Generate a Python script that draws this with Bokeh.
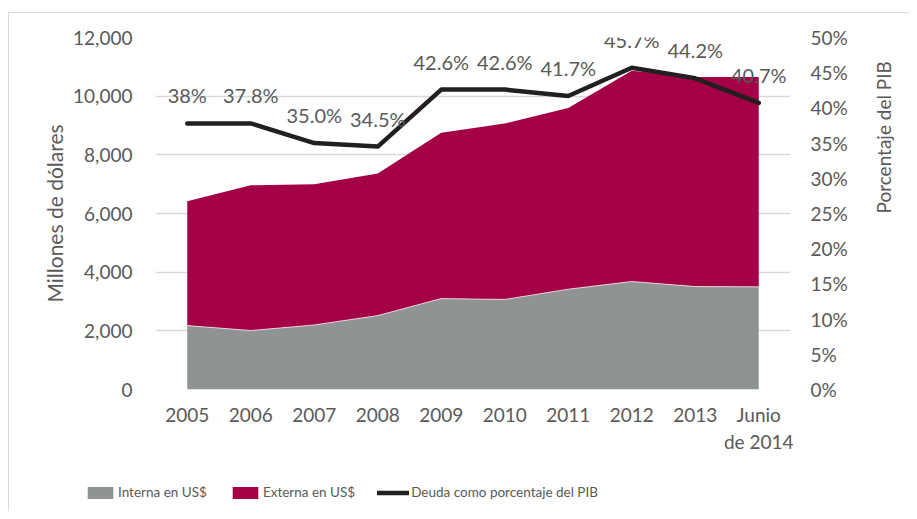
import math
from bokeh.plotting import figure
from bokeh.layouts import column
from bokeh.models import (Range1d, FactorRange, LinearAxis, SingleIntervalTicker,
                          NumeralTickFormatter, PrintfTickFormatter, Legend, LegendItem,
                          ColumnDataSource)
from bokeh.core.properties import value
from bokeh.embed import file_html
from bokeh.resources import INLINE

# ---- data ----
categories = ["2005", "2006", "2007", "2008", "2009", "2010", "2011", "2012", "2013", "Junio\nde 2014"]
interna = [2180, 2010, 2200, 2520, 3100, 3070, 3420, 3680, 3510, 3500]
externa = [4240, 4950, 4800, 4840, 5650, 6000, 6180, 7190, 7140, 7150]
pct_pib = [37.8, 37.8, 35.0, 34.5, 42.6, 42.6, 41.7, 45.7, 44.2, 40.7]
pct_labels = ["38%", "37.8%", "35.0%", "34.5%", "42.6%", "42.6%", "41.7%", "45.7%", "44.2%", "40.7%"]
series_names = ["Interna en US$", "Externa en US$", "Deuda como porcentaje del PIB"]

GRAY = "#8F9394"
MAROON = "#A30046"
LINE = "#231F20"
TXT = "#595959"
FONT = "Lato"

src = ColumnDataSource(dict(cat=categories, interna=interna, externa=externa,
                            pct=pct_pib, lab=pct_labels))

p = figure(width=900, height=446, x_range=FactorRange(*categories),
           y_range=Range1d(0, 12000), output_backend="svg", toolbar_location=None,
           min_border_left=146, min_border_right=114, min_border_top=24,
           min_border_bottom=70)
p.outline_line_color = None
p.background_fill_color = "white"
p.border_fill_color = "white"
p.extra_y_ranges = {"pct": Range1d(0, 50)}

# areas
areas = p.varea_stack(["interna", "externa"], x="cat", source=src, color=[GRAY, MAROON])
p.line("cat", "interna", source=src, color="white", line_width=1, line_alpha=0.7)

# line
ln = p.line("cat", "pct", source=src, y_range_name="pct", color=LINE, line_width=4.5,
            line_cap="round", line_join="round")
p.text("cat", "pct", text="lab", source=src, y_range_name="pct", text_align="center",
       text_baseline="middle", y_offset=-28, text_font=value(FONT),
       text_font_size="20px", text_color=TXT)

# axes
p.xgrid.visible = False
p.ygrid.ticker = SingleIntervalTicker(interval=2000)
p.ygrid.grid_line_color = "#D9D9D9"
p.ygrid.grid_line_width = 1.3

xa = p.xaxis[0]
xa.axis_line_color = None
xa.major_tick_line_color = None
xa.minor_tick_line_color = None
xa.major_label_standoff = 7
xa.major_label_text_font = FONT
xa.major_label_text_font_size = "19px"
xa.major_label_text_color = TXT

ya = p.yaxis[0]
ya.ticker = SingleIntervalTicker(interval=2000)
ya.formatter = NumeralTickFormatter(format="0,0")
ya.axis_line_color = None
ya.major_tick_line_color = None
ya.minor_tick_line_color = None
ya.major_label_standoff = 17
ya.major_label_text_font = FONT
ya.major_label_text_font_size = "19px"
ya.major_label_text_color = TXT
ya.axis_label = "Millones de dólares"
ya.axis_label_text_font = FONT
ya.axis_label_text_font_size = "21px"
ya.axis_label_text_font_style = "normal"
ya.axis_label_text_color = TXT
ya.axis_label_standoff = 3

ra = LinearAxis(y_range_name="pct", ticker=SingleIntervalTicker(interval=5),
                formatter=PrintfTickFormatter(format="%d%%"))
ra.axis_line_color = None
ra.major_tick_line_color = None
ra.minor_tick_line_color = None
ra.major_label_standoff = 14
ra.major_label_text_font = FONT
ra.major_label_text_font_size = "19px"
ra.major_label_text_color = TXT
ra.axis_label = "Porcentaje del PIB"
ra.axis_label_orientation = math.pi / 2
ra.axis_label_text_font = FONT
ra.axis_label_text_font_size = "19px"
ra.axis_label_text_font_style = "normal"
ra.axis_label_text_color = TXT
ra.axis_label_standoff = 33
p.add_layout(ra, "right")

# legend strip (own small figure so it is not clipped by the main frame)
lg = figure(width=900, height=52, output_backend="svg", toolbar_location=None,
            min_border=0, x_axis_location=None, y_axis_location=None,
            x_range=Range1d(0, 1), y_range=Range1d(0, 1))
lg.frame_align = False
lg.grid.visible = False
lg.outline_line_color = None
nan = float("nan")
r1 = lg.varea(x=[nan], y1=[nan], y2=[nan], color=GRAY)
r2 = lg.varea(x=[nan], y1=[nan], y2=[nan], color=MAROON)
r3 = lg.line(x=[nan], y=[nan], color=LINE, line_width=4.5, line_cap="round")
legend = Legend(items=[LegendItem(label=series_names[0], renderers=[r1]),
                       LegendItem(label=series_names[1], renderers=[r2]),
                       LegendItem(label=series_names[2], renderers=[r3])],
                orientation="horizontal", location=(75, 11), padding=0, margin=0,
                spacing=22, glyph_width=32, glyph_height=15, label_height=15,
                label_standoff=2, border_line_color=None, background_fill_alpha=0,
                label_text_font=FONT, label_text_font_size="13.5px",
                label_text_color=TXT)
lg.add_layout(legend, "center")

layout = column(p, lg, spacing=0)
layout.styles = {"margin-left": "8px", "margin-top": "12px",
                 "border-left": "1px solid #D9D9D9", "border-top": "1px solid #D9D9D9"}
open("out.html", "w").write(file_html(layout, INLINE))
